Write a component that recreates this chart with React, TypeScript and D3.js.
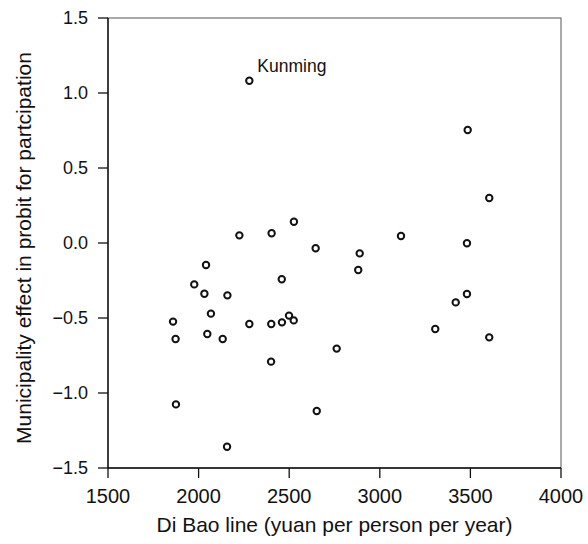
import React from 'react';
import * as d3 from 'd3';

// Di Bao line (yuan per person per year) for each municipality
const diBao = [
  2280, 2225, 2403, 2526, 2646, 2041, 2459, 3485, 3604, 3117, 3481, 2889, 2881,
  1976, 2032, 2159, 2068, 1859, 2280, 2401, 2460, 2499, 2525, 1873, 2048, 2133,
  2400, 2762, 1875, 2652, 2157, 3481, 3419, 3306, 3604,
];

// municipality effect in probit for participation
const effect = [
  1.082, 0.051, 0.065, 0.142, -0.035, -0.147, -0.242, 0.753, 0.3, 0.047, -0.002,
  -0.069, -0.18, -0.276, -0.338, -0.349, -0.471, -0.524, -0.54, -0.54, -0.529,
  -0.484, -0.516, -0.64, -0.607, -0.64, -0.791, -0.704, -1.076, -1.12, -1.358,
  -0.34, -0.396, -0.573, -0.629,
];

const labels = ['Kunming'];
const labelIndex = [0];

const xTicks = [1500, 2000, 2500, 3000, 3500, 4000];
const yTicks = [1.5, 1.0, 0.5, 0.0, -0.5, -1.0, -1.5];

const App = () => {
  const width = 588;
  const height = 544;
  const margin = { top: 18, right: 27, bottom: 76, left: 108 };
  const font = '"Liberation Sans", Arial, sans-serif';

  const xScale = d3.scaleLinear().domain([1500, 4000]).range([margin.left, width - margin.right]);
  const yScale = d3.scaleLinear().domain([-1.5, 1.5]).range([height - margin.bottom, margin.top]);

  const points = diBao.map((x, i) => ({ x, y: effect[i] }));
  const yFormat = (v: number) => d3.format('.1f')(v).replace('-', '\u2212');

  const [x0, x1] = xScale.range();
  const [y0, y1] = yScale.range();

  return (
    <svg
      width={width}
      height={height}
      style={{ position: 'absolute', left: 0, top: 0, background: '#fff' }}
      fontFamily={font}
    >
      {/* frame */}
      <rect x={x0} y={y1} width={x1 - x0} height={y0 - y1} fill="none" stroke="#555" strokeWidth={1} />
      <line x1={x0} x2={x0} y1={y1} y2={y0} stroke="#111" strokeWidth={1.4} />
      <line x1={x0} x2={x1} y1={y0} y2={y0} stroke="#111" strokeWidth={1.4} />

      {xTicks.map(t => (
        <g key={t} transform={`translate(${xScale(t)},${y0})`}>
          <line y1={0} y2={10} stroke="#111" strokeWidth={1.3} />
          <text y={35} textAnchor="middle" fontSize={20} fill="#111">{t}</text>
        </g>
      ))}

      {yTicks.map(t => (
        <g key={t} transform={`translate(${x0},${yScale(t)})`}>
          <line x1={0} x2={-10} stroke="#111" strokeWidth={1.3} />
          <text x={-20} dy="0.36em" textAnchor="end" fontSize={18} fill="#111">{yFormat(t)}</text>
        </g>
      ))}

      {points.map((d, i) => (
        <circle
          key={i}
          cx={xScale(d.x)}
          cy={yScale(d.y)}
          r={3.2}
          fill="#fff"
          stroke="#111"
          strokeWidth={2}
        />
      ))}

      {labelIndex.map((idx, i) => (
        <text
          key={labels[i]}
          x={xScale(points[idx].x) + 8}
          y={yScale(points[idx].y) - 9}
          fontSize={17.5}
          fill="#111"
        >
          {labels[i]}
        </text>
      ))}

      <text x={(x0 + x1) / 2} y={532} textAnchor="middle" fontSize={21} fill="#111">
        Di Bao line (yuan per person per year)
      </text>
      <text
        transform={`translate(31,248) rotate(-90)`}
        textAnchor="middle"
        fontSize={21}
        fill="#111"
      >
        Municipality effect in probit for partcipation
      </text>
    </svg>
  );
};

export default App;
